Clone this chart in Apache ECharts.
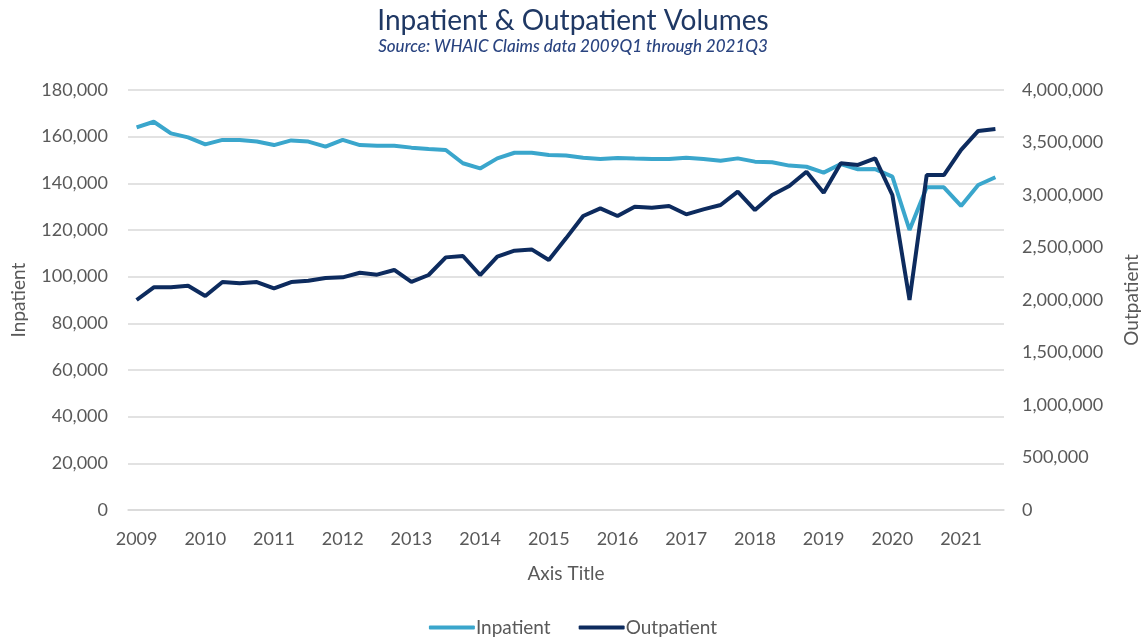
<!DOCTYPE html>
<html>
<head>
<meta charset="utf-8">
<script src="https://cdn.jsdelivr.net/npm/echarts@6/dist/echarts.min.js"></script>
<style>
  html, body { margin: 0; padding: 0; background: #fff; }
  #chart { width: 1146px; height: 642px; }
</style>
</head>
<body>
<div id="chart"></div>
<script>
// quarters 2009Q1 .. 2021Q3
var quarters = [];
for (var y = 2009; y <= 2021; y++) {
  for (var q = 1; q <= 4; q++) {
    if (y === 2021 && q > 3) break;
    quarters.push(y + 'Q' + q);
  }
}

var inpatient = [
  164000, 166400, 161400, 159700, 156700, 158600, 158600, 157900,
  156400, 158400, 157900, 155700, 158600, 156400, 156100, 156100,
  155300, 154700, 154300, 148600, 146400, 150700, 153100, 153100,
  152100, 151900, 151000, 150400, 150900, 150600, 150400, 150400,
  151000, 150400, 149700, 150700, 149300, 149000, 147600, 147100,
  144600, 148300, 146000, 146100, 142900, 120000, 138300, 138300,
  130300, 139300, 142600
];

var outpatient = [
  2000000, 2121000, 2121000, 2136000, 2038000, 2171000, 2159000, 2171000,
  2111000, 2171000, 2184000, 2210000, 2216000, 2260000, 2241000, 2286000,
  2173000, 2238000, 2406000, 2419000, 2238000, 2413000, 2470000, 2482000,
  2381000, 2587000, 2800000, 2873000, 2800000, 2889000, 2879000, 2895000,
  2816000, 2863000, 2905000, 3032000, 2857000, 3000000, 3086000, 3222000,
  3022000, 3302000, 3286000, 3349000, 3000000, 2000000, 3190000, 3190000,
  3429000, 3610000, 3629000
];

var font = 'Lato, "Open Sans", sans-serif';
var grey = '#595959';

var chart = echarts.init(document.getElementById('chart'));
chart.setOption({
  animation: false,
  backgroundColor: '#fff',
  title: {
    text: 'Inpatient & Outpatient Volumes',
    subtext: 'Source: WHAIC Claims data 2009Q1 through 2021Q3',
    left: 'center',
    top: 2,
    itemGap: 3,
    textStyle: { color: '#1f3864', fontSize: 28, fontWeight: 'normal', fontFamily: font },
    subtextStyle: { color: '#2a4480', fontSize: 17, fontStyle: 'italic', fontWeight: 500, fontFamily: font }
  },
  color: ['#3aa6cc', '#0d2b5e'],
  legend: {
    bottom: 0,
    left: 'center',
    itemWidth: 46,
    itemHeight: 4,
    itemGap: 28,
    icon: 'roundRect',
    textStyle: { color: grey, fontSize: 19, fontFamily: font, padding: [0, 0, 0, -4] },
    data: ['Inpatient', 'Outpatient']
  },
  grid: { left: 128, right: 142, top: 90, bottom: 132, outerBoundsMode: 'none' },
  xAxis: {
    type: 'category',
    data: quarters,
    boundaryGap: true,
    name: 'Axis Title',
    nameLocation: 'middle',
    nameGap: 54,
    nameTextStyle: { color: grey, fontSize: 19, fontFamily: font },
    axisLine: { lineStyle: { color: '#d9d9d9', width: 1.5 } },
    axisTick: { show: false },
    axisLabel: {
      interval: 3,
      color: grey,
      fontSize: 18,
      fontFamily: font,
      margin: 20,
      formatter: function (v) { return v.slice(0, 4); }
    }
  },
  yAxis: [{
    type: 'value',
    min: 0,
    max: 180000,
    interval: 20000,
    name: 'Inpatient',
    nameLocation: 'middle',
    nameGap: 100,
    nameTextStyle: { color: grey, fontSize: 19, fontFamily: font },
    axisLine: { show: false },
    axisTick: { show: false },
    axisLabel: { color: grey, fontSize: 18, fontFamily: font, margin: 20,
      formatter: function (v) { return v.toLocaleString('en-US'); } },
    splitLine: { lineStyle: { color: '#d9d9d9', width: 1.5 } }
  }, {
    type: 'value',
    min: 0,
    max: 4000000,
    interval: 500000,
    name: 'Outpatient',
    nameLocation: 'middle',
    nameGap: 118,
    nameTextStyle: { color: grey, fontSize: 19, fontFamily: font },
    axisLine: { show: false },
    axisTick: { show: false },
    axisLabel: { color: grey, fontSize: 18, fontFamily: font, margin: 18,
      formatter: function (v) { return v.toLocaleString('en-US'); } },
    splitLine: { show: false }
  }],
  series: [{
    name: 'Inpatient',
    type: 'line',
    yAxisIndex: 0,
    data: inpatient,
    showSymbol: false,
    lineStyle: { width: 4, color: '#3aa6cc' }
  }, {
    name: 'Outpatient',
    type: 'line',
    yAxisIndex: 1,
    data: outpatient,
    showSymbol: false,
    lineStyle: { width: 4, color: '#0d2b5e' }
  }]
});
</script>
</body>
</html>
